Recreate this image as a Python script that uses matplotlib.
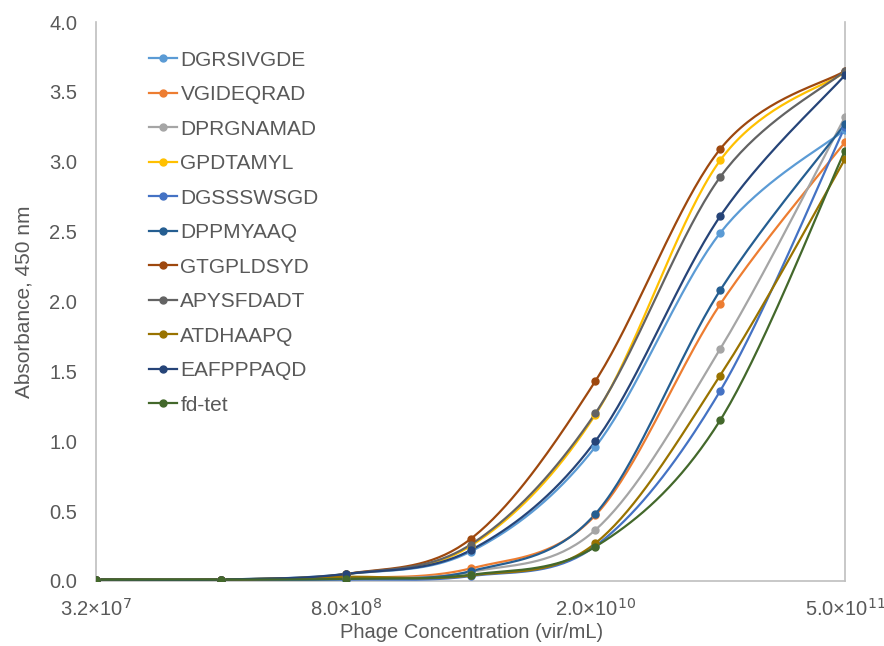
import numpy as np
import matplotlib.pyplot as plt

plt.rcParams['font.family'] = ['Liberation Sans', 'DejaVu Sans']

conc = [3.2e7, 1.6e8, 8.0e8, 4.0e9, 2.0e10, 1.0e11, 5.0e11]
xtick_vals = [3.2e7, 8.0e8, 2.0e10, 5.0e11]
xtick_labels = [r'3.2×10$^{7}$', r'8.0×10$^{8}$', r'2.0×10$^{10}$', r'5.0×10$^{11}$']

names = ['DGRSIVGDE', 'VGIDEQRAD', 'DPRGNAMAD', 'GPDTAMYL', 'DGSSSWSGD', 'DPPMYAAQ',
         'GTGPLDSYD', 'APYSFDADT', 'ATDHAAPQ', 'EAFPPPAQD', 'fd-tet']
colors = ['#5B9BD5', '#ED7D31', '#A5A5A5', '#FFC000', '#4472C4', '#255E91',
          '#9E480E', '#636363', '#997300', '#264478', '#43682B']

absorb = [
    [0.01, 0.01, 0.05, 0.21, 0.96, 2.49, 3.23],   # DGRSIVGDE
    [0.01, 0.01, 0.02, 0.09, 0.47, 1.98, 3.14],   # VGIDEQRAD
    [0.01, 0.01, 0.02, 0.065, 0.365, 1.66, 3.32], # DPRGNAMAD
    [0.01, 0.01, 0.05, 0.25, 1.19, 3.01, 3.64],   # GPDTAMYL
    [0.01, 0.01, 0.01, 0.035, 0.25, 1.36, 3.25],  # DGSSSWSGD
    [0.01, 0.01, 0.02, 0.07, 0.48, 2.08, 3.27],   # DPPMYAAQ
    [0.01, 0.01, 0.05, 0.30, 1.43, 3.09, 3.65],   # GTGPLDSYD
    [0.01, 0.01, 0.05, 0.26, 1.20, 2.89, 3.65],   # APYSFDADT
    [0.01, 0.01, 0.03, 0.04, 0.27, 1.47, 3.02],   # ATDHAAPQ
    [0.01, 0.01, 0.05, 0.22, 1.00, 2.61, 3.62],   # EAFPPPAQD
    [0.01, 0.01, 0.015, 0.045, 0.245, 1.15, 3.08],  # fd-tet
]

W, H = 884, 646
fig = plt.figure(figsize=(W / 100, H / 100), dpi=100)
ax = fig.add_axes([96 / W, (H - 581) / H, (845 - 96) / W, (581 - 22) / H])
ax.set_xscale('log')
ax.set_xlim(conc[0], conc[-1])
ax.set_ylim(0, 4.0)

lx0, lx1 = np.log10(conc[0]), np.log10(conc[-1])
pw, ph = 845 - 96, 581 - 22


def smooth(xs, ys, n=40):
    # Excel-style smoothed line: Catmull-Rom Bezier in screen space
    px = (np.log10(xs) - lx0) / (lx1 - lx0) * pw
    py = np.asarray(ys) / 4.0 * ph
    P = np.column_stack([px, py])
    out = [P[0]]
    t = np.linspace(0, 1, n)[1:, None]
    for i in range(len(P) - 1):
        p0 = P[max(i - 1, 0)]
        p1, p2 = P[i], P[i + 1]
        p3 = P[min(i + 2, len(P) - 1)]
        c1 = p1 + (p2 - p0) / 6.0
        c2 = p2 - (p3 - p1) / 6.0
        seg = ((1 - t) ** 3) * p1 + 3 * ((1 - t) ** 2) * t * c1 + 3 * (1 - t) * t ** 2 * c2 + t ** 3 * p2
        out.extend(seg)
    out = np.array(out)
    sx = 10 ** (out[:, 0] / pw * (lx1 - lx0) + lx0)
    sy = out[:, 1] / ph * 4.0
    return sx, sy


for name, col, ys in zip(names, colors, absorb):
    sx, sy = smooth(conc, ys)
    ax.plot(sx, sy, color=col, lw=1.6, zorder=3)
    ax.plot(conc, ys, 'o', color=col, ms=5, zorder=4)
    ax.plot([], [], '-o', color=col, lw=1.6, ms=5, label=name)

ax.set_xticks(xtick_vals)
ax.set_xticklabels(xtick_labels)
ax.xaxis.set_minor_locator(plt.NullLocator())
ax.set_yticks(np.arange(0, 4.01, 0.5))
ax.set_yticklabels([f'{v:.1f}' for v in np.arange(0, 4.01, 0.5)])
ax.tick_params(length=0, labelsize=14.5, colors='#595959')
ax.tick_params(axis='y', pad=13.5)
ax.tick_params(axis='x', pad=12)

for s in ['left', 'bottom', 'right']:
    ax.spines[s].set_color('#BFBFBF')
    ax.spines[s].set_linewidth(1.2)
ax.spines['top'].set_visible(False)

ax.set_xlabel('Phage Concentration (vir/mL)', fontsize=14.5, color='#595959')
ax.set_ylabel('Absorbance, 450 nm', fontsize=15, color='#595959')
ax.xaxis.set_label_coords(0.501, -0.093)
ax.xaxis.label.set_va('center')
ax.yaxis.set_label_coords(-0.096, 0.5)
ax.yaxis.label.set_va('center')

leg = ax.legend(loc='upper left', bbox_to_anchor=(0.071, 0.949), frameon=False,
                fontsize=15, labelcolor='#595959', handlelength=1.35,
                handletextpad=0.15, labelspacing=0.745, borderpad=0,
                borderaxespad=0)

fig.savefig('out.png', dpi=100)
